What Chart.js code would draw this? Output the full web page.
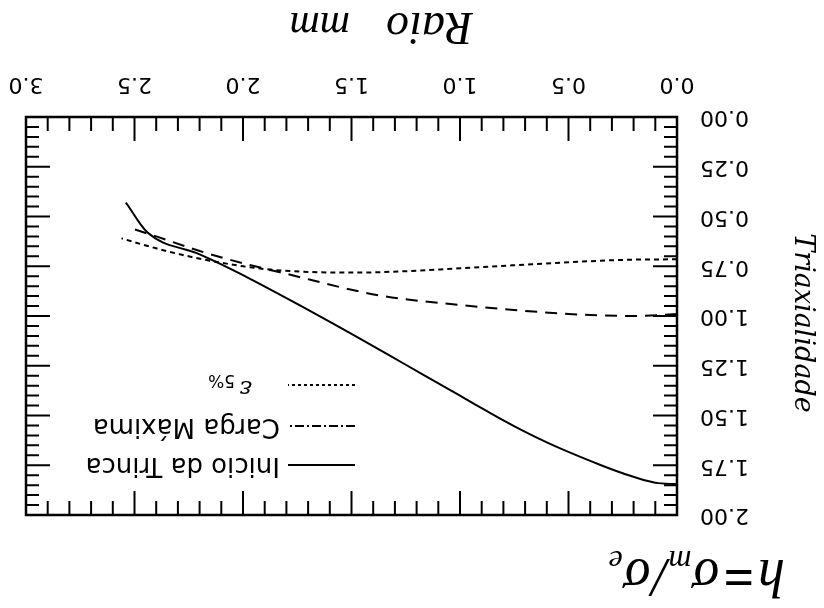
<!DOCTYPE html>
<html>
<head>
<meta charset="utf-8">
<script src="https://cdn.jsdelivr.net/npm/chart.js@4.4.1/dist/chart.umd.min.js"></script>
<style>
  html, body { margin: 0; padding: 0; background: #fff; overflow: hidden; }
  /* the reference is printed upside down */
  #chart { display: block; transform: rotate(180deg); }
</style>
</head>
<body>
<canvas id="chart" width="824" height="608"></canvas>
<script>
// Data (radius in mm, triaxiality h)
const seriesNames = ['Inicio da Trinca', 'Carga Máxima', 'ε5%'];

const trincaRaio = [0, 0.1, 0.25, 0.4, 0.6, 0.8, 1.0, 1.25, 1.5, 1.8, 2.0, 2.2, 2.44, 2.54];
const trincaH    = [1.845, 1.838, 1.79, 1.728, 1.635, 1.525, 1.40, 1.245, 1.09, 0.91, 0.795, 0.69, 0.58, 0.43];

const cargaRaio = [0, 0.2, 0.5, 0.8, 1.0, 1.37, 1.83, 2.0, 2.21, 2.4, 2.53];
const cargaH    = [0.99, 1.0, 0.99, 0.965, 0.945, 0.897, 0.78, 0.735, 0.67, 0.6, 0.554];

const epsRaio = [0, 0.25, 0.5, 0.75, 1.0, 1.25, 1.5, 1.83, 2.0, 2.23, 2.4, 2.56];
const epsH    = [0.715, 0.718, 0.73, 0.745, 0.76, 0.775, 0.782, 0.771, 0.75, 0.705, 0.66, 0.61];

const xTicks = [0, 0.5, 1.0, 1.5, 2.0, 2.5, 3.0];
const yTicks = [0, 0.25, 0.5, 0.75, 1.0, 1.25, 1.5, 1.75, 2.0];

function toPoints(xs, ys) {
    return xs.map((x, i) => ({ x: x, y: ys[i] }));
}

const lineDashes = [[], [12, 8], [5, 4]];
const legendDashes = [[], [9, 3, 2, 3], [3, 3]];

// Inward ticks on all four sides plus the frame
const frameTicks = {
    id: 'frameTicks',
    afterDraw(chart) {
        const { ctx, chartArea: { left, right, top, bottom }, scales: { x, y } } = chart;
        ctx.save();
        ctx.strokeStyle = '#000';
        ctx.lineWidth = 2;
        ctx.beginPath();
        for (let i = 0; i <= 30; i++) {
            const px = x.getPixelForValue(i / 10);
            const len = i % 5 === 0 ? 24 : 14;
            ctx.moveTo(px, bottom); ctx.lineTo(px, bottom - len);
            ctx.moveTo(px, top); ctx.lineTo(px, top + len);
        }
        for (let i = 0; i <= 40; i++) {
            const py = y.getPixelForValue(i / 20);
            const len = i % 5 === 0 ? 24 : 13;
            ctx.moveTo(left, py); ctx.lineTo(left + len, py);
            ctx.moveTo(right, py); ctx.lineTo(right - len, py);
        }
        ctx.stroke();
        ctx.lineWidth = 2.5;
        ctx.strokeRect(left, top, right - left, bottom - top);
        ctx.restore();
    }
};

// Axis titles and legend
const annotations = {
    id: 'annotations',
    afterDraw(chart) {
        const ctx = chart.ctx;
        ctx.save();
        ctx.fillStyle = '#000';
        ctx.textBaseline = 'alphabetic';

        // x title
        ctx.font = 'italic 46px "Liberation Serif"';
        ctx.textAlign = 'left';
        ctx.fillText('Raio', 351, 595);
        ctx.font = 'italic 42px "Liberation Serif"';
        ctx.fillText('mm', 474, 595);

        // y title
        ctx.save();
        ctx.translate(29, 285);
        ctx.rotate(-Math.PI / 2);
        ctx.font = 'italic 27px "DejaVu Serif"';
        ctx.textAlign = 'center';
        ctx.fillText('Triaxialidade', 0, 0);
        ctx.restore();

        // h = sigma_m / sigma_e
        let cx = 39;
        const base = 48;
        const big = 'italic 54px "Liberation Serif"';
        const small = 'italic 32px "Liberation Serif"';
        const put = (txt, font, dy, gap) => {
            ctx.font = font;
            ctx.fillText(txt, cx, base + dy);
            cx += ctx.measureText(txt).width + gap;
        };
        put('h', big, 0, 4);
        put('=', 'bold 54px "Liberation Serif"', 0, 4);
        put('σ', big, 0, 1);
        put('m', small, 9, 1);
        put('/', big, 0, 2);
        put('σ', big, 0, 1);
        put('e', small, 9, 0);

        // legend
        const rows = [143, 182, 223];
        ctx.lineWidth = 2;
        ctx.strokeStyle = '#000';
        rows.forEach((ry, i) => {
            ctx.setLineDash(legendDashes[i]);
            ctx.beginPath();
            ctx.moveTo(469, ry);
            ctx.lineTo(536, ry);
            ctx.stroke();
        });
        ctx.setLineDash([]);
        ctx.textBaseline = 'middle';
        ctx.font = '26px "DejaVu Sans"';
        ctx.fillText(seriesNames[0], 544, rows[0]);
        ctx.fillText(seriesNames[1], 544, rows[1]);
        ctx.font = 'italic 24px "DejaVu Serif"';
        ctx.fillText('ε', 572, rows[2] - 2);
        ctx.font = '17px "DejaVu Sans"';
        ctx.fillText('5%', 589, rows[2] + 6);
        ctx.restore();
    }
};

const series = [
    toPoints(trincaRaio, trincaH),
    toPoints(cargaRaio, cargaH),
    toPoints(epsRaio, epsH)
];

new Chart(document.getElementById('chart'), {
    type: 'scatter',
    data: {
        datasets: series.map((pts, i) => ({
            label: seriesNames[i],
            data: pts,
            showLine: true,
            borderColor: '#000',
            borderWidth: 2,
            borderDash: lineDashes[i],
            pointRadius: 0,
            cubicInterpolationMode: 'monotone'
        }))
    },
    options: {
        responsive: false,
        animation: false,
        devicePixelRatio: 1,
        layout: { padding: { left: 75, right: 26, top: 93, bottom: 69 } },
        plugins: { legend: { display: false }, tooltip: { enabled: false } },
        scales: {
            x: {
                type: 'linear',
                min: 0,
                max: 3,
                afterBuildTicks: (axis) => { axis.ticks = xTicks.map(v => ({ value: v })); },
                afterFit: (axis) => {
                    axis.height = 48;
                    axis.paddingLeft = 0;
                    axis.paddingRight = 0;
                },
                ticks: {
                    callback: (v) => Number(v).toFixed(1),
                    color: '#000',
                    font: { family: 'DejaVu Sans', size: 22 },
                    padding: 20,
                    maxRotation: 0
                },
                grid: { display: false, drawTicks: false },
                border: { display: false }
            },
            y: {
                type: 'linear',
                min: 0,
                max: 2,
                afterBuildTicks: (axis) => { axis.ticks = yTicks.map(v => ({ value: v })); },
                afterFit: (axis) => {
                    axis.width = 72;
                    axis.paddingTop = 0;
                    axis.paddingBottom = 0;
                },
                ticks: {
                    callback: (v) => Number(v).toFixed(2),
                    color: '#000',
                    font: { family: 'DejaVu Sans', size: 22 },
                    padding: 23
                },
                grid: { display: false, drawTicks: false },
                border: { display: false }
            }
        }
    },
    plugins: [frameTicks, annotations]
});
</script>
</body>
</html>
